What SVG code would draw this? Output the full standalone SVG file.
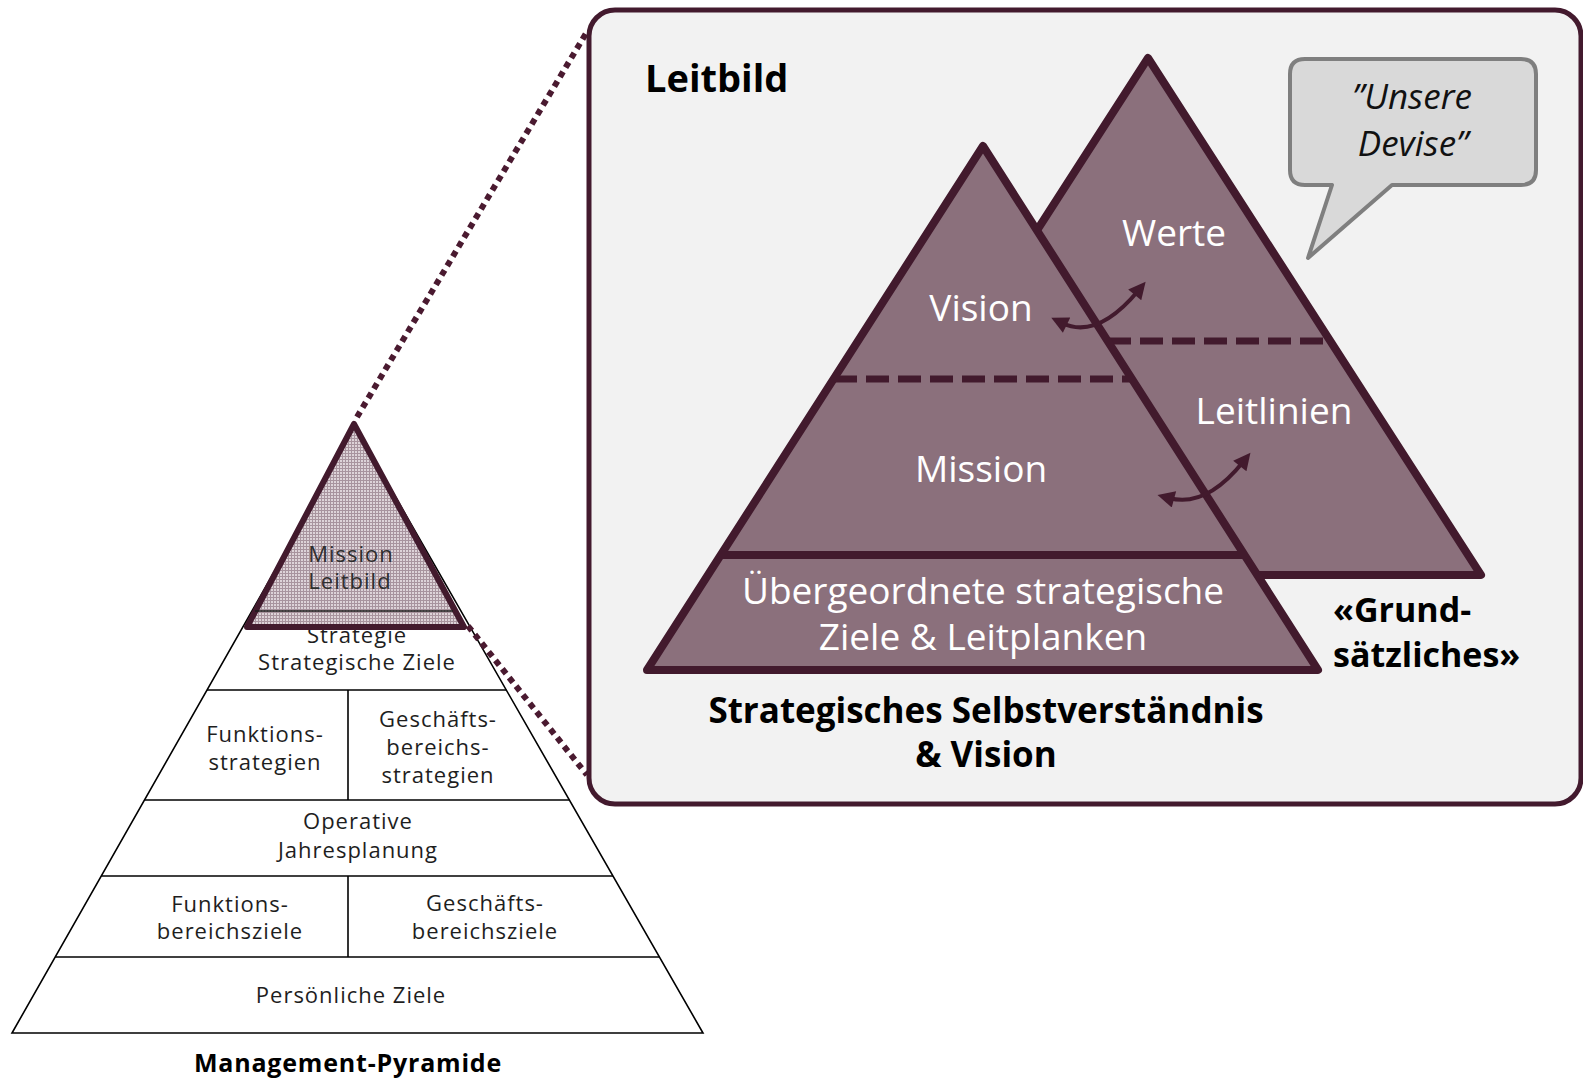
<svg xmlns="http://www.w3.org/2000/svg" width="1583" height="1080" viewBox="0 0 1583 1080">
<defs>
<pattern id="hatch" width="3" height="3" patternUnits="userSpaceOnUse"><rect width="3" height="3" fill="#ddd3d8"/><rect width="3" height="1" fill="#a8949e"/><rect width="1" height="3" fill="#a8949e"/></pattern>
<marker id="ah" viewBox="0 0 10 10" refX="3" refY="5" markerWidth="19" markerHeight="17" markerUnits="userSpaceOnUse" orient="auto-start-reverse"><path d="M0,0 L10,5 L0,10 Z" fill="#421a2d"/></marker>
<style>
.sm{font-family:"Open Sans","Noto Sans",sans-serif;font-size:22px;fill:#1e1e1e;text-anchor:middle;letter-spacing:1px}
.pl{stroke:#000;stroke-width:1.6;fill:none}
.wt{font-family:"Open Sans","Noto Sans",sans-serif;font-size:37px;fill:#fff;text-anchor:middle}
.bd{font-family:"Open Sans","Noto Sans",sans-serif;font-weight:bold;fill:#000}
.tri{fill:#8b707c;stroke:#421a2d;stroke-width:8;stroke-linejoin:round}
.dl{stroke:#421a2d;stroke-width:7;stroke-dasharray:23 9}
.dot{stroke:#4a1a30;stroke-width:6;stroke-dasharray:6 5;fill:none}
.arr{fill:none;stroke:#421a2d;stroke-width:4;marker-start:url(#ah);marker-end:url(#ah)}
.it{font-family:"Open Sans","Noto Sans",sans-serif;font-style:italic;font-size:35px;fill:#111;text-anchor:middle}
</style>
</defs>
<rect width="1583" height="1080" fill="#fff"/>

<g id="management-pyramide">
<polygon points="356,428 703,1033 12,1033" fill="#fff" class="pl"/>
<line class="pl" x1="207" y1="690" x2="506.3" y2="690"/>
<line class="pl" x1="144.5" y1="800" x2="569.4" y2="800"/>
<line class="pl" x1="101.3" y1="876" x2="613" y2="876"/>
<line class="pl" x1="55.2" y1="957" x2="659.4" y2="957"/>
<line class="pl" x1="348" y1="690" x2="348" y2="800"/>
<line class="pl" x1="348" y1="876" x2="348" y2="957"/>
<text class="sm" x="357" y="643">Strategie</text>
<text class="sm" x="357" y="670">Strategische Ziele</text>
<text class="sm" x="265" y="742">Funktions-</text>
<text class="sm" x="265" y="770">strategien</text>
<text class="sm" x="438" y="727">Geschäfts-</text>
<text class="sm" x="438" y="755">bereichs-</text>
<text class="sm" x="438" y="783">strategien</text>
<text class="sm" x="358" y="829">Operative</text>
<text class="sm" x="358" y="858">Jahresplanung</text>
<text class="sm" x="230" y="912">Funktions-</text>
<text class="sm" x="230" y="939">bereichsziele</text>
<text class="sm" x="485" y="911">Geschäfts-</text>
<text class="sm" x="485" y="939">bereichsziele</text>
<text class="sm" x="351" y="1003">Persönliche Ziele</text>
<text class="bd" x="348" y="1072" text-anchor="middle" font-size="25" letter-spacing="0.8">Management-Pyramide</text>
</g>

<g id="mission-leitbild-spitze">
<polygon points="354,424 464,627 247,627" fill="url(#hatch)" stroke="#421a2d" stroke-width="6" stroke-linejoin="round"/>
<line x1="255" y1="611" x2="453" y2="611" stroke="#1a1a1a" stroke-width="1.6"/>
<text class="sm" x="351" y="562" style="fill:#2e2e2e">Mission</text>
<text class="sm" x="350" y="589" style="fill:#2e2e2e">Leitbild</text>
</g>

<g id="connectors">
<line class="dot" x1="357" y1="417" x2="588" y2="30"/>
<line class="dot" x1="468" y1="626" x2="587" y2="775"/>
</g>

<g id="leitbild-box">
<rect x="589" y="10" width="992" height="794" rx="26" fill="#f2f2f2" stroke="#431a2e" stroke-width="5"/>
<text class="bd" x="645" y="92" font-size="38">Leitbild</text>
</g>

<g id="grundsaetzliches">
<polygon class="tri" points="1148,58 1481,575 815,575"/>
<line class="dl" x1="1108" y1="341" x2="1330" y2="341"/>
<text class="wt" x="1174" y="246">Werte</text>
<text class="wt" x="1274" y="424">Leitlinien</text>
<text class="bd" x="1333" y="622" font-size="34">«Grund-</text>
<text class="bd" x="1333" y="667" font-size="34">sätzliches»</text>
</g>

<g id="selbstverstaendnis">
<polygon class="tri" points="983,146 1318,670 647,670"/>
<line class="dl" x1="834" y1="379" x2="1132" y2="379"/>
<line x1="722" y1="555" x2="1244" y2="555" stroke="#421a2d" stroke-width="8"/>
<text class="wt" x="981" y="321">Vision</text>
<text class="wt" x="981" y="482">Mission</text>
<text class="wt" x="983" y="604">Übergeordnete strategische</text>
<text class="wt" x="983" y="650">Ziele &amp; Leitplanken</text>
<text class="bd" x="986" y="723" text-anchor="middle" font-size="35">Strategisches Selbstverständnis</text>
<text class="bd" x="986" y="767" text-anchor="middle" font-size="35">&amp; Vision</text>
</g>

<g id="wechselwirkung">
<path class="arr" d="M1062,323 Q1097,340 1138,291"/>
<path class="arr" d="M1169,498 Q1206,508 1243,462"/>
</g>

<g id="devise-bubble">
<path d="M1305,59 H1521 Q1536,59 1536,74 V170 Q1536,185 1521,185 H1392 L1308,258 L1332,185 H1305 Q1290,185 1290,170 V74 Q1290,59 1305,59 Z" fill="#d9d9d9" stroke="#7f7f7f" stroke-width="4" stroke-linejoin="round"/>
<text class="it" x="1412" y="109">”Unsere</text>
<text class="it" x="1413" y="156">Devise”</text>
</g>
</svg>
